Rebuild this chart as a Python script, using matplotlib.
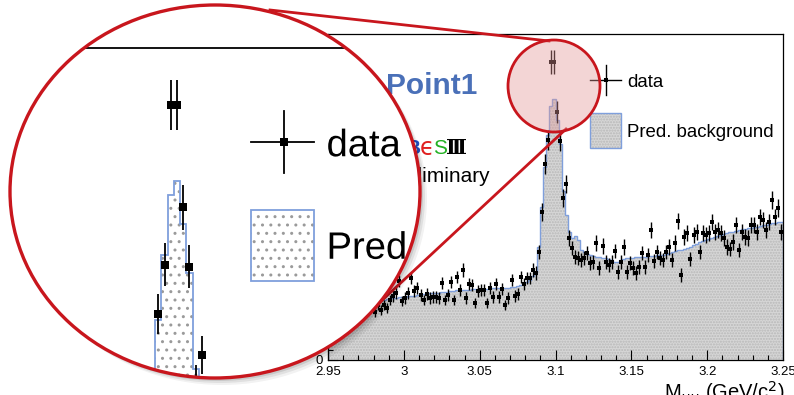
import numpy as np
import matplotlib.pyplot as plt
from matplotlib.patches import Ellipse, Rectangle, PathPatch
from matplotlib.lines import Line2D
from matplotlib.textpath import TextPath
from matplotlib.font_manager import FontProperties
from matplotlib.transforms import Affine2D
from matplotlib.ticker import MultipleLocator, FuncFormatter

plt.rcParams['font.family'] = ['Liberation Sans', 'DejaVu Sans']

# ---- data: 150 bins of 2 MeV from 2.95 to 3.25 GeV ----
bin_edges = np.linspace(2.95, 3.25, 151)

data_counts = [
    96, 108, 90, 104, 114, 100, 96, 110, 120, 102,
    108, 96, 114, 104, 120, 96, 110, 100, 110, 104,
    120, 128, 134, 158, 118, 124, 134, 164, 138, 144,
    130, 120, 132, 124, 126, 126, 124, 154, 120, 130,
    156, 120, 166, 140, 180, 124, 152, 150, 114, 138,
    140, 140, 114, 144, 126, 152, 126, 142, 110, 124,
    160, 128, 132, 166, 152, 164, 164, 180, 174, 216,
    296, 392, 440, 596, 596, 496, 438, 324, 352, 244,
    224, 206, 204, 200, 204, 214, 194, 196, 234, 184,
    228, 196, 190, 196, 218, 176, 196, 226, 176, 194,
    184, 174, 186, 214, 186, 210, 260, 198, 216, 204,
    200, 216, 226, 200, 234, 278, 170, 246, 254, 202,
    250, 256, 216, 254, 250, 254, 276, 256, 260, 254,
    244, 226, 222, 236, 270, 220, 256, 246, 244, 270,
    270, 256, 286, 280, 260, 276, 320, 286, 304, 256,
]

bkg_counts = [
    110, 110, 112, 112, 112, 114, 114, 114, 114, 116,
    116, 116, 118, 118, 118, 118, 120, 120, 120, 122,
    124, 124, 124, 126, 126, 126, 128, 128, 128, 130,
    132, 132, 132, 134, 134, 134, 134, 136, 136, 136,
    138, 138, 140, 140, 140, 140, 140, 142, 142, 142,
    142, 142, 142, 144, 144, 144, 144, 144, 144, 144,
    146, 146, 148, 150, 154, 156, 160, 168, 176, 226,
    306, 386, 450, 508, 522, 480, 432, 338, 290, 256,
    244, 248, 240, 220, 216, 212, 210, 208, 206, 206,
    204, 204, 202, 200, 196, 196, 200, 202, 204, 204,
    204, 206, 206, 206, 206, 208, 208, 208, 210, 210,
    210, 212, 214, 216, 218, 220, 220, 222, 224, 226,
    230, 232, 236, 238, 240, 242, 244, 246, 248, 250,
    252, 254, 256, 256, 258, 260, 262, 262, 264, 264,
    266, 266, 268, 270, 270, 272, 274, 274, 276, 276,
]

x_ticks = [2.95, 3.0, 3.05, 3.1, 3.15, 3.2, 3.25]
legend_labels = ["data", "Pred. background"]

centers = 0.5 * (bin_edges[:-1] + bin_edges[1:])
data_counts = np.array(data_counts, dtype=float)
data_err = np.sqrt(data_counts)

W, H = 794, 395
XLIM = (2.95, 3.25)
YLIM = (0, 652)
BLUE = "#7f9fdc"
RED = "#c8161d"
LEG_TEXT_POS = [(3.1471, 546), (3.1471, 446)]


def fx(px):
    return px / W


def fy(py):
    return 1 - py / H


def draw_panel(ax, face, hatch, hatch_col, lw, ms):
    ax.stairs(bkg_counts, bin_edges, fill=True, facecolor=face,
              edgecolor=hatch_col, hatch=hatch, linewidth=0)
    ax.stairs(bkg_counts, bin_edges, color=BLUE, lw=lw)
    ax.errorbar(centers, data_counts, yerr=data_err, fmt="s", color="black",
                ms=ms, elinewidth=lw, capsize=0, mew=0)
    # legend keys, placed in data coordinates so they magnify consistently
    ax.plot([3.1227, 3.1432], [560, 560], color="black", lw=lw)
    ax.plot([3.1333, 3.1333], [530, 590], color="black", lw=lw)
    ax.plot([3.1333], [560], "s", color="black", ms=ms, mew=0)
    ax.add_patch(Rectangle((3.1227, 424), 0.0205, 70, facecolor=face,
                           hatch=hatch, edgecolor=hatch_col, lw=0))
    ax.add_patch(Rectangle((3.1227, 424), 0.0205, 70, fill=False,
                           edgecolor=BLUE, lw=lw))


fig = plt.figure(figsize=(W / 100, H / 100), dpi=100)

# ---- main frame ----
ax = fig.add_axes([fx(328), fy(360), 455 / W, 326 / H])
ax.set_zorder(1)
draw_panel(ax, "#d6d6d6", "......", "#b8b8b8", 1.0, 2.9)
for label, (x, y) in zip(legend_labels, LEG_TEXT_POS):
    ax.text(x, y, label, fontsize=13.4, va="baseline")
ax.set_xlim(*XLIM)
ax.set_ylim(*YLIM)
ax.set_xticks(x_ticks)
ax.xaxis.set_major_formatter(FuncFormatter(lambda v, p: f"{v:g}"))
ax.xaxis.set_minor_locator(MultipleLocator(0.01))
ax.yaxis.set_major_locator(MultipleLocator(100))
ax.yaxis.set_minor_locator(MultipleLocator(20))
ax.tick_params(which="both", direction="in", top=False, right=False,
               labelsize=9.5, width=0.8)
ax.tick_params(which="major", length=7, pad=4)
ax.tick_params(which="minor", length=3.5)
for sp in ax.spines.values():
    sp.set_linewidth(0.9)

fig.text(fx(785), fy(400), r"M$_{\mu\mu}$ (GeV/c$^{2}$)", fontsize=14.5,
         ha="right", va="baseline")

# ---- labels in the main frame ----
fig.text(fx(386), fy(86), "Point1", fontsize=21.5, fontweight="bold",
         color="#4a70b8", va="center", zorder=2)
fig.text(fx(406), fy(148), "B", fontsize=15, fontweight="bold",
         color="#1f4fbf", va="center", zorder=2)
fig.text(fx(420), fy(148), "ϵ", fontsize=17, color="#e02020",
         va="center", zorder=2, family=["DejaVu Sans"])
fig.text(fx(433), fy(148), "S", fontsize=15, color="#22b022",
         va="center", zorder=2)
fig.text(fx(446), fy(148), "Ⅲ", fontsize=15, fontweight="bold",
         color="black", va="center", zorder=2,
         family=["DejaVu Serif", "DejaVu Sans"])
fig.text(fx(490), fy(182), "Preliminary", fontsize=15, ha="right",
         va="baseline", zorder=2)

# ---- magnifier overlay ----
fig.add_artist(Line2D([fx(270), fx(549)], [fy(10), fy(41)], color=RED,
                      lw=2.0, zorder=2.5))
fig.add_artist(Line2D([fx(377), fx(566)], [fy(305), fy(129)], color=RED,
                      lw=2.0, zorder=2.5))
fig.add_artist(Ellipse((fx(554), fy(86)), 92 / W, 92 / H,
                       transform=fig.transFigure, facecolor="#e39898",
                       alpha=0.4, edgecolor="none", zorder=3))
fig.add_artist(Ellipse((fx(554), fy(86)), 92 / W, 92 / H,
                       transform=fig.transFigure, fill=False,
                       edgecolor=RED, lw=2.0, zorder=3.1))

cx, cy, ew, eh = 215, 191.5, 410, 373
for off, a in [(7, 0.05), (5, 0.07), (3, 0.1)]:
    fig.add_artist(Ellipse((fx(cx + off), fy(cy + off)), ew / W, eh / H,
                           transform=fig.transFigure, facecolor="black",
                           alpha=a, edgecolor="none", zorder=3.5))
lens = Ellipse((fx(cx), fy(cy)), ew / W, eh / H, transform=fig.transFigure,
               facecolor="white", edgecolor="none", zorder=4)
fig.add_artist(lens)

mag = 2.05
px_x = 455 / (XLIM[1] - XLIM[0])
px_y = 326 / (YLIM[1] - YLIM[0])
m_a, c_a = 3.09835, 596.0        # main-frame point shown at lens pixel (175, 105)
ax2 = fig.add_axes([fx(10), fy(378), 410 / W, 373 / H])
ax2.set_zorder(5)
draw_panel(ax2, "white", "..", "#9a9a9a", 1.3, 5.6)
ax2.axhline(YLIM[1], color="black", lw=1.3)
ax2.set_xlim(m_a - (175 - 10) / (mag * px_x), m_a + (420 - 175) / (mag * px_x))
ax2.set_ylim(c_a - (378 - 105) / (mag * px_y), c_a + (105 - 5) / (mag * px_y))
ax2.axis("off")

# magnified legend text as paths, so the lens outline can clip it
fp = FontProperties(family="Liberation Sans")
for label, (x, y) in zip(legend_labels, LEG_TEXT_POS):
    tp = TextPath((0, 0), label, size=13.4 * mag, prop=fp)
    x_px, y_px = ax2.transData.transform((x, y))
    tr = Affine2D().scale(fig.dpi / 72).translate(x_px, y_px)
    ax2.add_artist(PathPatch(tp, transform=tr, facecolor="black", lw=0))

for art in ax2.lines + ax2.collections + ax2.patches + ax2.artists:
    art.set_clip_path(lens)

fig.add_artist(Ellipse((fx(cx), fy(cy)), ew / W, eh / H,
                       transform=fig.transFigure, fill=False,
                       edgecolor=RED, lw=2.4, zorder=6))

fig.savefig("out.png", dpi=100)
